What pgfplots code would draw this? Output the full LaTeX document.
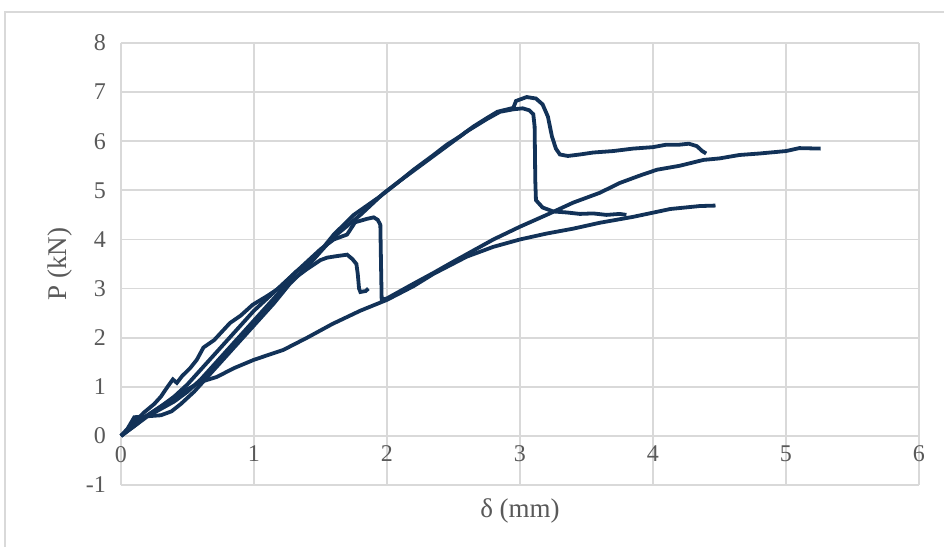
\documentclass[border=0pt]{standalone}
\usepackage{fontspec}
\setmainfont{Liberation Serif}
\usepackage{pgfplots}
\pgfplotsset{compat=1.18}
\definecolor{curve}{RGB}{18,50,88}
\definecolor{gridc}{RGB}{217,217,217}
\definecolor{labc}{RGB}{89,89,89}
\begin{document}
\begin{tikzpicture}
\useasboundingbox (0,0) rectangle (472pt,273.5pt);
% outer chart frame
\draw[gridc, line width=0.8pt] (2.5pt,-10pt) -- (2.5pt,267.5pt) -- (490pt,267.5pt);
\begin{axis}[
  at={(60.5pt,31pt)}, anchor=south west,
  scale only axis, width=399pt, height=221pt,
  xmin=0, xmax=6, ymin=-1, ymax=8,
  xtick={0,...,6}, ytick={-1,0,...,8},
  grid=major,
  major grid style={gridc, line width=0.9pt},
  axis line style={draw=none},
  tick style={draw=none},
  /pgf/number format/assume math mode=true,
  every tick label/.append style={font=\fontsize{12}{14}\selectfont, text=labc},
  xticklabel style={anchor=north, yshift=23pt},
  yticklabel style={anchor=east, xshift=-4pt},
  xlabel={\fontsize{13.5}{16}\selectfont δ (mm)},
  ylabel={\fontsize{13.5}{16}\selectfont P (kN)},
  every axis x label/.style={at={(axis description cs:0.5,-0.059)}, anchor=center, text=labc},
  every axis y label/.style={at={(axis description cs:-0.0764,0.5)}, anchor=center, rotate=90, text=labc},
  clip=false,
]
% specimen 1: peak 6.9 kN, residual plateau near 5.8 kN
\addplot[curve, line width=1.9pt] coordinates {
(0,0) (0.05,0.12) (0.1,0.27) (0.17,0.47) (0.25,0.65) (0.3,0.8) (0.35,1.0)
(0.39,1.15) (0.42,1.08) (0.46,1.22) (0.52,1.38) (0.57,1.55) (0.62,1.8)
(0.7,1.95) (0.82,2.3) (0.9,2.45) (0.99,2.67) (1.1,2.85) (1.2,3.03)
(1.32,3.35) (1.45,3.6) (1.6,4.1) (1.75,4.5) (1.95,4.88) (2.1,5.2)
(2.2,5.42) (2.35,5.72) (2.45,5.93) (2.55,6.1) (2.65,6.3) (2.75,6.47)
(2.83,6.6) (2.95,6.68) (2.97,6.82) (3.05,6.9) (3.12,6.87) (3.17,6.75)
(3.21,6.5) (3.24,6.1) (3.27,5.85) (3.3,5.73) (3.36,5.7) (3.45,5.73)
(3.55,5.77) (3.7,5.8) (3.85,5.85) (4.0,5.88) (4.1,5.93) (4.2,5.93)
(4.27,5.95) (4.33,5.9) (4.37,5.8) (4.4,5.75)
};
% specimen 2: peak 6.65 kN, sudden drop to 4.5 kN
\addplot[curve, line width=1.9pt] coordinates {
(0,0) (0.05,0.15) (0.1,0.38) (0.2,0.4) (0.3,0.42) (0.38,0.5) (0.45,0.65)
(0.55,0.9) (0.65,1.2) (0.75,1.5) (0.85,1.8) (0.95,2.1) (1.05,2.4)
(1.15,2.7) (1.27,3.1) (1.4,3.45) (1.6,4.05) (1.8,4.5) (1.97,4.93)
(2.1,5.2) (2.2,5.4) (2.35,5.7) (2.45,5.9) (2.6,6.2) (2.75,6.45)
(2.85,6.6) (2.95,6.65) (3.02,6.67) (3.07,6.63) (3.1,6.55) (3.11,6.3)
(3.115,5.2) (3.12,4.8) (3.17,4.65) (3.25,4.57) (3.35,4.55) (3.45,4.52)
(3.55,4.53) (3.65,4.5) (3.75,4.52) (3.8,4.5)
};
% specimen 3: peak 4.45 kN, drop and reloading up to 5.85 kN
\addplot[curve, line width=1.9pt] coordinates {
(0,0) (0.1,0.22) (0.2,0.42) (0.3,0.6) (0.4,0.8) (0.5,1.05) (0.6,1.35)
(0.7,1.65) (0.8,1.95) (0.9,2.25) (1.0,2.55) (1.1,2.8) (1.2,3.05)
(1.3,3.3) (1.4,3.55) (1.5,3.8) (1.6,4.0) (1.65,4.05) (1.7,4.1)
(1.76,4.35) (1.85,4.42) (1.9,4.45) (1.93,4.4) (1.95,4.3) (1.955,3.5)
(1.96,2.77) (2.0,2.8) (2.2,3.1) (2.35,3.32) (2.5,3.55) (2.6,3.7)
(2.8,4.0) (3.0,4.26) (3.2,4.5) (3.4,4.75) (3.6,4.95) (3.75,5.15)
(3.9,5.3) (4.03,5.42) (4.2,5.5) (4.38,5.62) (4.5,5.65) (4.65,5.72)
(4.8,5.75) (5.0,5.8) (5.1,5.86) (5.26,5.85)
};
% specimen 4: low stiffness, no distinct peak
\addplot[curve, line width=1.9pt] coordinates {
(0,0) (0.1,0.2) (0.2,0.42) (0.3,0.6) (0.4,0.78) (0.5,0.95) (0.6,1.1)
(0.72,1.2) (0.85,1.38) (1.0,1.55) (1.22,1.75) (1.4,2.0) (1.59,2.28)
(1.8,2.55) (2.0,2.77) (2.2,3.05) (2.35,3.3) (2.6,3.65) (2.8,3.85)
(3.0,4.0) (3.2,4.12) (3.4,4.22) (3.6,4.34) (3.85,4.46) (4.13,4.62)
(4.35,4.68) (4.47,4.69)
};
% specimen 5: peak 3.7 kN
\addplot[curve, line width=1.9pt] coordinates {
(0,0) (0.1,0.2) (0.2,0.4) (0.3,0.55) (0.4,0.7) (0.5,0.9) (0.6,1.15)
(0.7,1.45) (0.8,1.75) (0.9,2.05) (1.0,2.35) (1.1,2.65) (1.2,2.95)
(1.3,3.2) (1.4,3.4) (1.5,3.58) (1.55,3.63) (1.62,3.66) (1.7,3.69)
(1.74,3.6) (1.77,3.5) (1.78,3.3) (1.79,3.0) (1.8,2.93) (1.84,2.95)
(1.86,3.0)
};
\end{axis}
\end{tikzpicture}
\end{document}
